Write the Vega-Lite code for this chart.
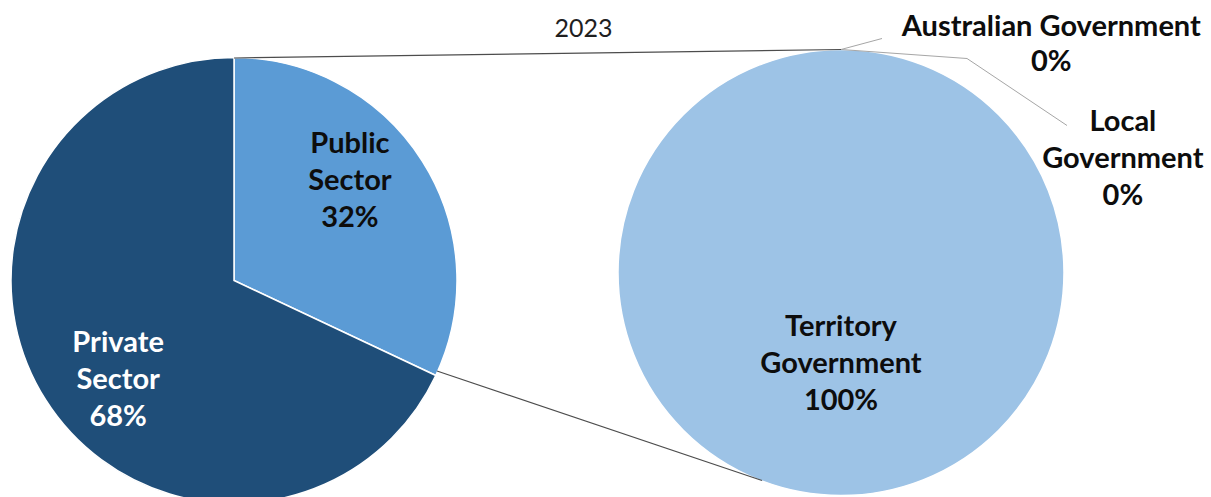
{
  "$schema": "https://vega.github.io/schema/vega-lite/v6.json",
  "width": 1211,
  "height": 497,
  "autosize": {"type": "fit", "contains": "padding"},
  "padding": {"top": 13, "left": 0, "right": 0, "bottom": 0},
  "background": "white",
  "title": {"text": "2023", "font": "Lato", "fontSize": 25, "fontWeight": "normal", "color": "#1f1f1f", "anchor": "middle", "dx": -22, "dy": 29, "offset": 0},
  "config": {"view": {"stroke": null}},
  "data": {"values": [
    {"pie": "Sector", "category": "Public Sector", "share": 0.32, "slice": 1},
    {"pie": "Sector", "category": "Private Sector", "share": 0.68, "slice": 2},
    {"pie": "Government", "category": "Australian Government", "share": 0, "slice": 1},
    {"pie": "Government", "category": "Local Government", "share": 0, "slice": 2},
    {"pie": "Government", "category": "Territory Government", "share": 1, "slice": 3}
  ]},
  "layer": [
    {
      "transform": [{"filter": "datum.pie === 'Sector'"}],
      "mark": {"type": "arc", "outerRadius": 223, "stroke": "white", "strokeWidth": 1.5},
      "encoding": {
        "x": {"field": "pie", "type": "nominal", "scale": {"type": "point", "padding": 0, "domain": ["Sector", "Government"], "range": [234, 841]}, "axis": null},
        "y": {"field": "pie", "type": "nominal", "scale": {"type": "point", "padding": 0, "domain": ["Sector", "Government"], "range": [242.5, 234.5]}, "axis": null},
        "theta": {"field": "share", "type": "quantitative", "stack": true, "scale": {"domain": [0, 1]}},
        "order": {"field": "slice", "type": "quantitative"},
        "color": {"field": "category", "type": "nominal", "legend": null, "scale": {"domain": ["Public Sector", "Private Sector", "Australian Government", "Local Government", "Territory Government"], "range": ["#5B9BD5", "#1F4E79", "#9DC3E6", "#9DC3E6", "#9DC3E6"]}}
      }
    },
    {
      "transform": [{"filter": "datum.pie === 'Government'"}],
      "mark": {"type": "arc", "outerRadius": 223, "stroke": "white", "strokeWidth": 1.5},
      "encoding": {
        "x": {"field": "pie", "type": "nominal"},
        "y": {"field": "pie", "type": "nominal"},
        "theta": {"field": "share", "type": "quantitative", "stack": true},
        "order": {"field": "slice", "type": "quantitative"},
        "color": {"field": "category", "type": "nominal", "legend": null}
      }
    },
    {
      "data": {"values": [{}]},
      "mark": {"type": "rule", "color": "#4d4d4d", "strokeWidth": 1.2},
      "encoding": {"x": {"value": 234}, "y": {"value": 20}, "x2": {"value": 841}, "y2": {"value": 11.5}}
    },
    {
      "data": {"values": [{}]},
      "mark": {"type": "rule", "color": "#4d4d4d", "strokeWidth": 1.2},
      "encoding": {"x": {"value": 437}, "y": {"value": 333}, "x2": {"value": 762}, "y2": {"value": 442.5}}
    },
    {
      "data": {"values": [{}]},
      "mark": {"type": "rule", "color": "#a6a6a6", "strokeWidth": 1},
      "encoding": {"x": {"value": 841}, "y": {"value": 11.5}, "x2": {"value": 882}, "y2": {"value": 0.5}}
    },
    {
      "data": {"values": [{}]},
      "mark": {"type": "rule", "color": "#a6a6a6", "strokeWidth": 1},
      "encoding": {"x": {"value": 841}, "y": {"value": 11.5}, "x2": {"value": 967}, "y2": {"value": 20.5}}
    },
    {
      "data": {"values": [{}]},
      "mark": {"type": "rule", "color": "#a6a6a6", "strokeWidth": 1},
      "encoding": {"x": {"value": 967}, "y": {"value": 20.5}, "x2": {"value": 1067}, "y2": {"value": 87.5}}
    },
    {
      "transform": [{"filter": "datum.pie === 'Sector'"}],
      "mark": {"type": "text", "font": "Lato", "fontWeight": "bold", "fontSize": 29, "radius": 153, "thetaOffset": -0.146, "lineBreak": " ", "lineHeight": 37, "baseline": "middle", "align": "center", "dy": -37},
      "encoding": {
        "x": {"field": "pie", "type": "nominal"},
        "y": {"field": "pie", "type": "nominal"},
        "theta": {"field": "share", "type": "quantitative", "stack": true},
        "order": {"field": "slice", "type": "quantitative"},
        "detail": {"field": "category"},
        "text": {"field": "category"},
        "color": {"condition": {"test": "datum.category === 'Private Sector'", "value": "white"}, "value": "#0d0d0d"}
      }
    },
    {
      "transform": [{"filter": "datum.pie === 'Sector'"}],
      "mark": {"type": "text", "font": "Lato", "fontWeight": "bold", "fontSize": 29, "radius": 153, "thetaOffset": -0.146, "baseline": "middle", "align": "center", "dy": 37},
      "encoding": {
        "x": {"field": "pie", "type": "nominal"},
        "y": {"field": "pie", "type": "nominal"},
        "theta": {"field": "share", "type": "quantitative", "stack": true},
        "order": {"field": "slice", "type": "quantitative"},
        "detail": {"field": "category"},
        "text": {"field": "share", "type": "quantitative", "format": ".0%"},
        "color": {"condition": {"test": "datum.category === 'Private Sector'", "value": "white"}, "value": "#0d0d0d"}
      }
    },
    {
      "transform": [{"filter": "datum.category === 'Territory Government'"}],
      "mark": {"type": "text", "font": "Lato", "fontWeight": "bold", "fontSize": 29, "radius": 91, "lineBreak": " ", "lineHeight": 37, "baseline": "middle", "align": "center", "dy": -37, "color": "#0d0d0d"},
      "encoding": {
        "x": {"field": "pie", "type": "nominal"},
        "y": {"field": "pie", "type": "nominal"},
        "theta": {"field": "share", "type": "quantitative", "stack": true},
        "detail": {"field": "category"},
        "text": {"field": "category"}
      }
    },
    {
      "transform": [{"filter": "datum.category === 'Territory Government'"}],
      "mark": {"type": "text", "font": "Lato", "fontWeight": "bold", "fontSize": 29, "radius": 91, "baseline": "middle", "align": "center", "dy": 37, "color": "#0d0d0d"},
      "encoding": {
        "x": {"field": "pie", "type": "nominal"},
        "y": {"field": "pie", "type": "nominal"},
        "theta": {"field": "share", "type": "quantitative", "stack": true},
        "detail": {"field": "category"},
        "text": {"field": "share", "type": "quantitative", "format": ".0%"}
      }
    },
    {
      "transform": [{"filter": "datum.category === 'Australian Government'"}],
      "mark": {"type": "text", "font": "Lato", "fontWeight": "bold", "fontSize": 29, "radius": 323, "thetaOffset": 0.709, "baseline": "middle", "align": "center", "color": "#0d0d0d"},
      "encoding": {
        "x": {"field": "pie", "type": "nominal"},
        "y": {"field": "pie", "type": "nominal"},
        "theta": {"field": "share", "type": "quantitative", "stack": true},
        "detail": {"field": "category"},
        "text": {"field": "category"}
      }
    },
    {
      "transform": [{"filter": "datum.category === 'Australian Government'"}],
      "mark": {"type": "text", "font": "Lato", "fontWeight": "bold", "fontSize": 29, "radius": 323, "thetaOffset": 0.709, "baseline": "middle", "align": "center", "dy": 35, "color": "#0d0d0d"},
      "encoding": {
        "x": {"field": "pie", "type": "nominal"},
        "y": {"field": "pie", "type": "nominal"},
        "theta": {"field": "share", "type": "quantitative", "stack": true},
        "detail": {"field": "category"},
        "text": {"field": "share", "type": "quantitative", "format": ".0%"}
      }
    },
    {
      "transform": [{"filter": "datum.category === 'Local Government'"}],
      "mark": {"type": "text", "font": "Lato", "fontWeight": "bold", "fontSize": 29, "radius": 304, "thetaOffset": 1.187, "lineBreak": " ", "lineHeight": 37, "baseline": "middle", "align": "center", "dy": -37, "color": "#0d0d0d"},
      "encoding": {
        "x": {"field": "pie", "type": "nominal"},
        "y": {"field": "pie", "type": "nominal"},
        "theta": {"field": "share", "type": "quantitative", "stack": true},
        "detail": {"field": "category"},
        "text": {"field": "category"}
      }
    },
    {
      "transform": [{"filter": "datum.category === 'Local Government'"}],
      "mark": {"type": "text", "font": "Lato", "fontWeight": "bold", "fontSize": 29, "radius": 304, "thetaOffset": 1.187, "baseline": "middle", "align": "center", "dy": 37, "color": "#0d0d0d"},
      "encoding": {
        "x": {"field": "pie", "type": "nominal"},
        "y": {"field": "pie", "type": "nominal"},
        "theta": {"field": "share", "type": "quantitative", "stack": true},
        "detail": {"field": "category"},
        "text": {"field": "share", "type": "quantitative", "format": ".0%"}
      }
    }
  ]
}
